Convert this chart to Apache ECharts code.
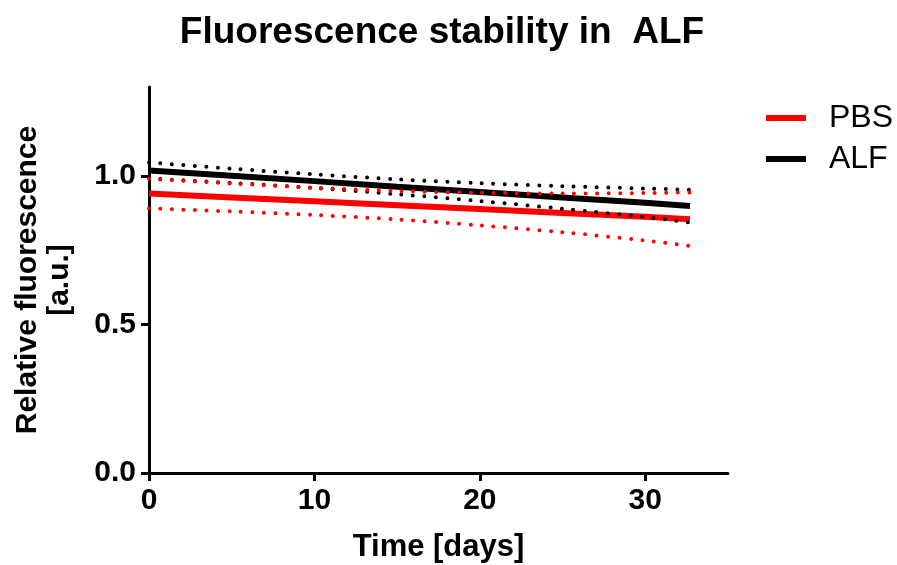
<!DOCTYPE html>
<html>
<head>
<meta charset="utf-8">
<script src="https://cdn.jsdelivr.net/npm/echarts@6/dist/echarts.min.js"></script>
<style>html,body{margin:0;padding:0;background:#fff}#c{width:897px;height:565px}</style>
</head>
<body>
<div id="c"></div>
<script>
const days = [0, 5, 10, 15, 20, 25, 30, 32.7];
const pbsFit   = [0.941, 0.928, 0.915, 0.902, 0.889, 0.876, 0.863, 0.855];
const pbsUpper = [0.991, 0.975, 0.961, 0.950, 0.944, 0.941, 0.943, 0.945];
const pbsLower = [0.891, 0.881, 0.869, 0.854, 0.834, 0.811, 0.783, 0.765];
const alfFit   = [1.019, 1.001, 0.983, 0.964, 0.946, 0.928, 0.910, 0.899];
const alfUpper = [1.046, 1.025, 1.006, 0.989, 0.976, 0.966, 0.958, 0.954];
const alfLower = [0.992, 0.977, 0.960, 0.939, 0.916, 0.890, 0.862, 0.844];
const xTicks = [0, 10, 20, 30];
const yTicks = [0, 0.5, 1.0];

const pair = arr => days.map((d, i) => [d, arr[i]]);
const FONT = '"Liberation Sans", Arial, sans-serif';

function solid(name, data, color) {
  return { name, type: 'line', data: pair(data), showSymbol: false, symbol: 'none',
    lineStyle: { color, width: 6 }, itemStyle: { color }, z: 3, silent: true };
}
function dotted(name, data, color) {
  return { name, type: 'line', data: pair(data), showSymbol: false, symbol: 'none', smooth: 0.3,
    lineStyle: { color, width: 4, type: [0, 11.5], cap: 'round' }, z: 4, silent: true };
}

const chart = echarts.init(document.getElementById('c'), null, { renderer: 'canvas' });
chart.setOption({
  animation: false,
  backgroundColor: '#fff',
  title: {
    text: 'Fluorescence stability in  ALF',
    left: 437, top: 9, textAlign: 'center',
    textStyle: { fontFamily: FONT, fontWeight: 'bold', fontSize: 37, color: '#000' }
  },
  legend: {
    data: ['PBS', 'ALF'],
    right: 4, top: 102, padding: 0, orient: 'vertical', itemGap: 9,
    itemWidth: 40, itemHeight: 6, icon: 'rect',
    textStyle: { fontFamily: FONT, fontSize: 32, color: '#000', padding: [0, 0, 0, 18] }
  },
  grid: { left: 149, right: 169, top: 87, bottom: 92, containLabel: false, outerBoundsMode: 'none' },
  xAxis: {
    type: 'value', min: 0, max: 35, interval: 10,
    name: 'Time [days]', nameLocation: 'middle', nameGap: 59,
    nameTextStyle: { fontFamily: FONT, fontWeight: 'bold', fontSize: 31, color: '#000' },
    axisLine: { lineStyle: { color: '#000', width: 3 } },
    axisTick: { show: true, length: 8, lineStyle: { width: 3, color: '#000' }, customValues: xTicks },
    axisLabel: { fontFamily: FONT, fontWeight: 'bold', fontSize: 30, color: '#000', margin: 13, customValues: xTicks },
    splitLine: { show: false }
  },
  yAxis: {
    type: 'value', min: 0, max: 1.3, interval: 0.5,
    name: 'Relative fluorescence\n[a.u.]', nameLocation: 'middle', nameGap: 73, nameRotate: 90,
    nameTextStyle: { fontFamily: FONT, fontWeight: 'bold', fontSize: 30, color: '#000', lineHeight: 32 },
    axisLine: { show: true, lineStyle: { color: '#000', width: 3 } },
    axisTick: { show: true, length: 8, lineStyle: { width: 3, color: '#000' }, customValues: yTicks },
    axisLabel: { fontFamily: FONT, fontWeight: 'bold', fontSize: 30, color: '#000', margin: 13,
      customValues: yTicks, formatter: v => v.toFixed(1) },
    splitLine: { show: false }
  },
  series: [
    solid('ALF', alfFit, '#000'),
    solid('PBS', pbsFit, '#ff0000'),
    dotted('ALF upper', alfUpper, '#000'),
    dotted('ALF lower', alfLower, '#000'),
    dotted('PBS upper', pbsUpper, '#ff0000'),
    dotted('PBS lower', pbsLower, '#ff0000')
  ]
});
</script>
</body>
</html>
